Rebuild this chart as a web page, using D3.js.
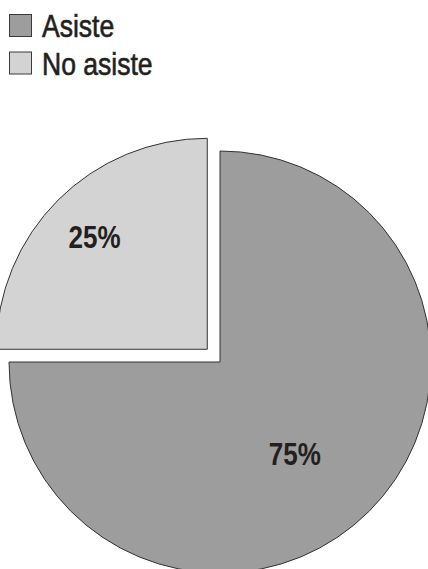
<!DOCTYPE html>
<html>
<head>
<meta charset="utf-8">
<script src="https://cdn.jsdelivr.net/npm/d3@7"></script>
<style>
  html, body { margin: 0; padding: 0; background: #fff; }
  svg { display: block; }
</style>
</head>
<body>
<svg id="chart"></svg>
<script>
// Data
const categories = ['Asiste', 'No asiste'];
const values = [75, 25];
const labels = ['75%', '25%'];

const width = 428;
const height = 569;
const fontFam = '"Liberation Sans", Arial, sans-serif';

const svg = d3.select('#chart')
  .attr('width', width)
  .attr('height', height);

const color = d3.scaleOrdinal()
  .domain(categories)
  .range(['#9d9d9d', '#d3d3d3']);

// Legend (condensed look via horizontal scale)
const legend = svg.append('g').attr('transform', 'translate(9, 14)');
categories.forEach((c, i) => {
  const g = legend.append('g').attr('transform', `translate(0, ${i * 37.5})`);
  g.append('rect')
    .attr('x', 0.5).attr('y', 0.5)
    .attr('width', 22).attr('height', 22)
    .attr('fill', color(c))
    .attr('stroke', '#3a3a3a')
    .attr('stroke-width', 1);
  g.append('text')
    .attr('transform', 'translate(33, 23) scale(0.87, 1)')
    .attr('font-family', fontFam)
    .attr('font-size', 30.5)
    .attr('fill', '#231f20')
    .attr('stroke', '#231f20')
    .attr('stroke-width', 0.6)
    .text(c);
});

// Pie
const cx = 220, cy = 362;
const radius = 211;
const explode = 18;

const pie = d3.pie().sort(null).value(d => d.value);
const arcs = pie(categories.map((c, i) => ({ cat: c, value: values[i], label: labels[i] })));
const arc = d3.arc().innerRadius(0).outerRadius(radius);

const pieG = svg.append('g').attr('transform', `translate(${cx}, ${cy})`);

const labelRadius = [0.56, 0.755];
const labelTurn = [0.1, 0];

arcs.forEach((a, i) => {
  const mid = (a.startAngle + a.endAngle) / 2;
  const off = i === 1 ? explode : 0;
  const dx = Math.sin(mid) * off;
  const dy = -Math.cos(mid) * off;
  const g = pieG.append('g').attr('transform', `translate(${dx}, ${dy})`);
  g.append('path')
    .attr('d', arc(a))
    .attr('fill', color(a.data.cat))
    .attr('stroke', '#333')
    .attr('stroke-width', 1);
  const lr = radius * labelRadius[i];
  const la = mid + labelTurn[i];
  const lx = Math.sin(la) * lr;
  const ly = -Math.cos(la) * lr + 31 * 0.36;
  g.append('text')
    .attr('transform', `translate(${lx}, ${ly}) scale(0.84, 1)`)
    .attr('text-anchor', 'middle')
    .attr('font-family', fontFam)
    .attr('font-weight', 'bold')
    .attr('font-size', 31)
    .attr('fill', '#231f20')
    .text(a.data.label);
});
</script>
</body>
</html>
